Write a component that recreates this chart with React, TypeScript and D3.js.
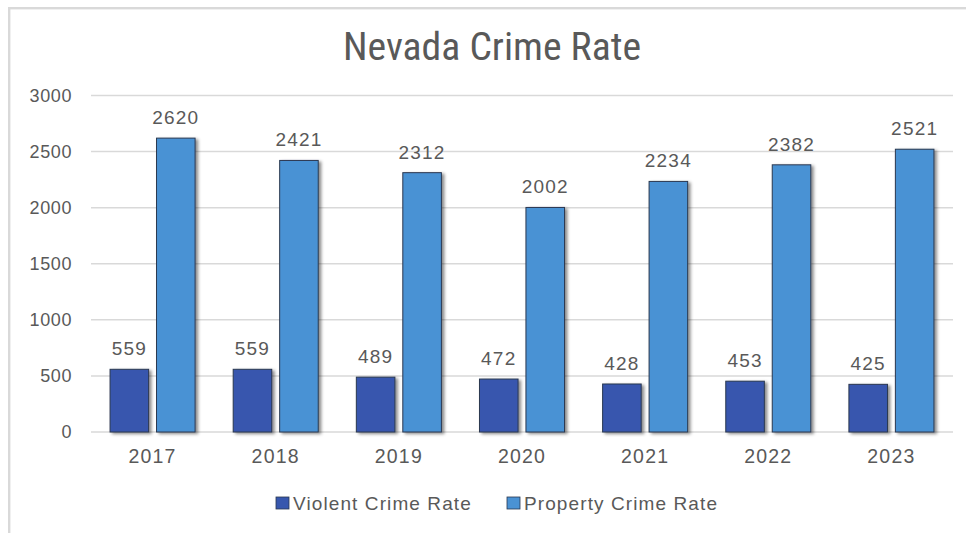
import React from "react";
import * as d3 from "d3";

const years = ["2017", "2018", "2019", "2020", "2021", "2022", "2023"];
const violent = [559, 559, 489, 472, 428, 453, 425];
const property = [2620, 2421, 2312, 2002, 2234, 2382, 2521];
const seriesNames = ["Violent Crime Rate", "Property Crime Rate"];
const seriesColors = ["#3757ae", "#4a92d4"];
const yTicks = [0, 500, 1000, 1500, 2000, 2500, 3000];

const W = 966;
const H = 533;
const LEFT = 91;
const RIGHT = 953;
const TOP = 95.5;
const BOTTOM = 432;
const FONT = "'Liberation Sans', Arial, sans-serif";
const GRAY = "#595959";

export default function App() {
  const x = d3.scaleBand<string>().domain(years).range([LEFT, RIGHT]).padding(0);
  const cw = x.bandwidth();
  const x1 = d3
    .scaleBand<number>()
    .domain([0, 1])
    .range([0, cw])
    .paddingInner(0.17)
    .paddingOuter(0.41);
  const y = d3.scaleLinear().domain([0, 3000]).range([BOTTOM, TOP]);
  const data = [violent, property];

  return (
    <svg
      width={W}
      height={H}
      style={{ position: "absolute", left: 0, top: 0, background: "#fff" }}
    >
      <defs>
        <filter id="sh" x="-30%" y="-10%" width="160%" height="120%">
          <feDropShadow dx="2.5" dy="1.5" stdDeviation="1.6" floodColor="#000" floodOpacity="0.45" />
        </filter>
      </defs>
      <rect x={0} y={0} width={W} height={H} fill="#fff" />
      <rect x={9.2} y={8.2} width={1200} height={800} fill="none" stroke="#d9d9d9" strokeWidth={2.4} />
      <text
        x={492}
        y={60}
        textAnchor="middle"
        fontFamily="'Liberation Sans Narrow', 'Roboto Condensed', Arial, sans-serif"
        fontSize={38}
        textLength={298}
        lengthAdjust="spacingAndGlyphs"
        fill={GRAY}
      >
        Nevada Crime Rate
      </text>
      {yTicks.map((t) => (
        <g key={t}>
          <line x1={LEFT} x2={RIGHT} y1={y(t)} y2={y(t)} stroke="#d9d9d9" strokeWidth={1.5} />
          <text
            x={72}
            y={y(t)}
            dy="0.35em"
            textAnchor="end"
            fontFamily={FONT}
            fontSize={18}
            letterSpacing={0.6}
            fill={GRAY}
          >
            {t}
          </text>
        </g>
      ))}
      {years.map((yr, i) => (
        <g key={yr}>
          {data.map((s, si) => {
            const bx = (x(yr) as number) + (x1(si) as number);
            const bw = x1.bandwidth();
            return (
              <g key={si}>
                <rect
                  x={bx}
                  y={y(s[i])}
                  width={bw}
                  height={BOTTOM - y(s[i])}
                  fill={seriesColors[si]}
                  stroke="#2a3850"
                  strokeWidth={1}
                  filter="url(#sh)"
                />
                <text
                  x={bx + bw / 2}
                  y={y(s[i]) - 14}
                  textAnchor="middle"
                  fontFamily={FONT}
                  fontSize={19}
                  letterSpacing={1.2}
                  fill={GRAY}
                >
                  {s[i]}
                </text>
              </g>
            );
          })}
          <text
            x={(x(yr) as number) + cw / 2}
            y={463}
            textAnchor="middle"
            fontFamily={FONT}
            fontSize={19.5}
            letterSpacing={1.2}
            fill={GRAY}
          >
            {yr}
          </text>
        </g>
      ))}
      {seriesNames.map((n, i) => {
        const lx = [276, 507][i];
        return (
          <g key={n}>
            <rect x={lx} y={497} width={13} height={12} fill={seriesColors[i]} stroke="#2a3850" strokeWidth={0.8} />
            <text x={lx + 17} y={510} fontFamily={FONT} fontSize={19} letterSpacing={1.1} fill={GRAY}>
              {n}
            </text>
          </g>
        );
      })}
    </svg>
  );
}
